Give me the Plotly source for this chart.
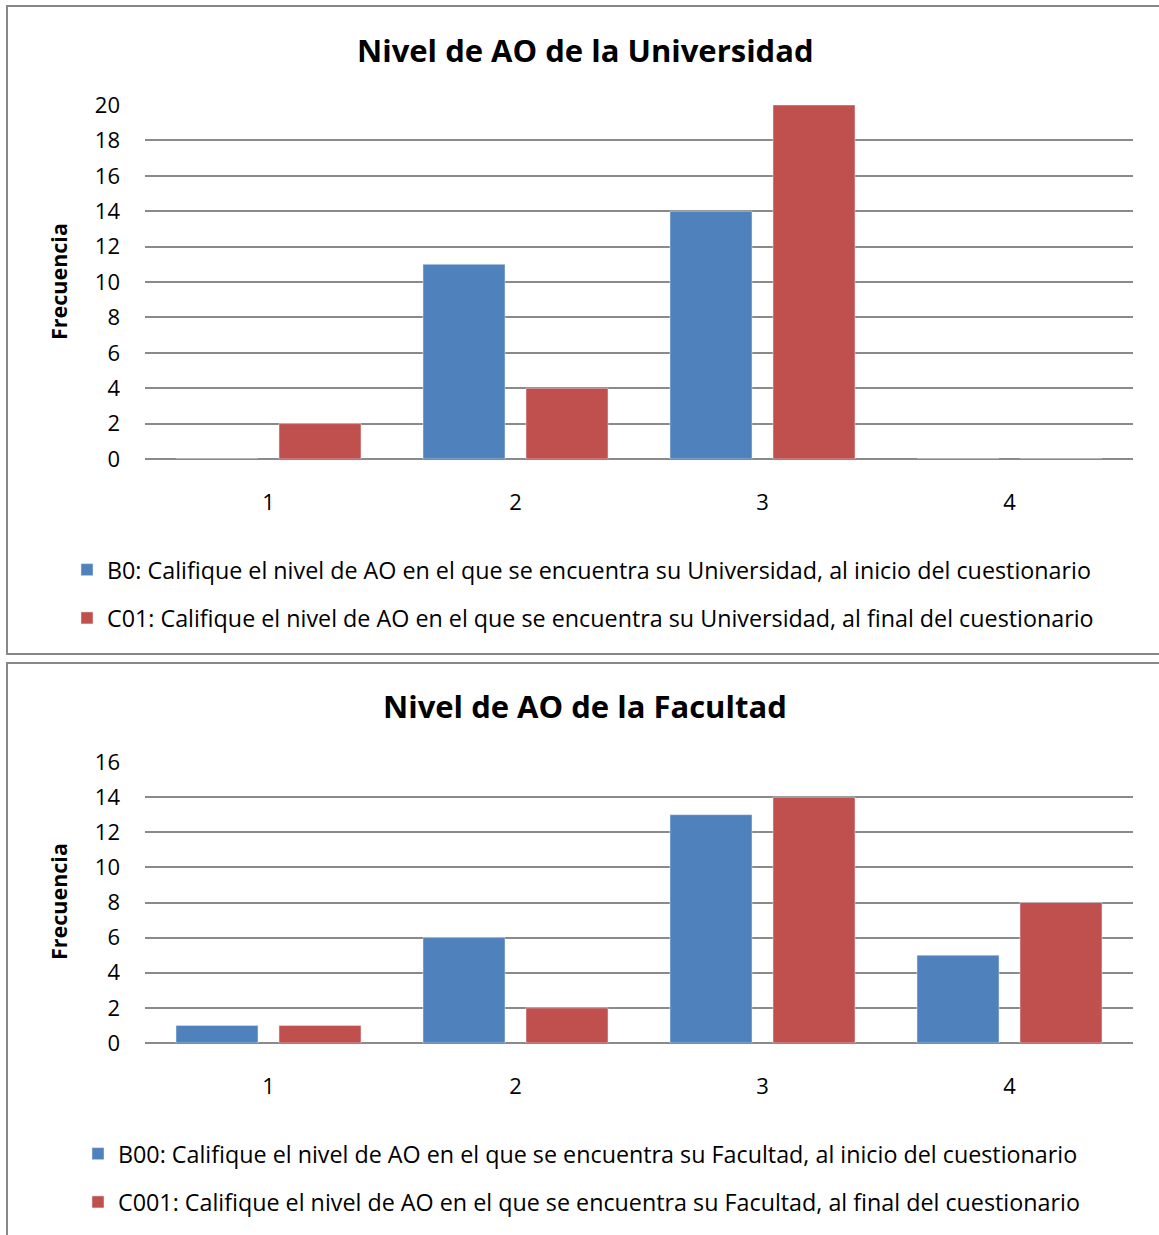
import plotly.graph_objects as go

# Categories (nivel) and frequencies
niveles = ["1", "2", "3", "4"]

univ_inicio = [0, 11, 14, 0]
univ_final = [2, 4, 20, 0]

fac_inicio = [1, 6, 13, 5]
fac_final = [1, 2, 14, 8]

univ_title = "Nivel de AO de la Universidad"
fac_title = "Nivel de AO de la Facultad"
y_label = "Frecuencia"

univ_names = [
    "B0: Califique el nivel de AO en el que se encuentra su Universidad, al inicio del cuestionario",
    "C01: Califique el nivel de AO en el que se encuentra su Universidad, al final del cuestionario",
]
fac_names = [
    "B00: Califique el nivel de AO en el que se encuentra su Facultad, al inicio del cuestionario",
    "C001: Califique el nivel de AO en el que se encuentra su Facultad, al final del cuestionario",
]

BLUE = "#4F81BD"
RED = "#C0504D"
GRID = "#8a8a8a"
FONT = "'Open Sans', sans-serif"

W, H = 1159, 1235


def px(x):
    return x / W


def py(y):
    return 1 - y / H


fig = go.Figure()

fig.add_trace(go.Bar(x=niveles, y=univ_inicio, name=univ_names[0], marker_color=BLUE,
                     xaxis="x", yaxis="y", legend="legend", legendgroup="a"))
fig.add_trace(go.Bar(x=niveles, y=univ_final, name=univ_names[1], marker_color=RED,
                     xaxis="x", yaxis="y", legend="legend", legendgroup="b"))
fig.add_trace(go.Bar(x=niveles, y=fac_inicio, name=fac_names[0], marker_color=BLUE,
                     xaxis="x2", yaxis="y2", legend="legend2", legendgroup="c"))
fig.add_trace(go.Bar(x=niveles, y=fac_final, name=fac_names[1], marker_color=RED,
                     xaxis="x2", yaxis="y2", legend="legend2", legendgroup="d"))

axis_font = dict(family=FONT, size=22, color="black")

xcommon = dict(type="category", showgrid=False, showline=False, zeroline=False,
               tickfont=axis_font, ticks="", ticklabelstandoff=28, fixedrange=True)
ycommon = dict(showgrid=True, gridcolor=GRID, gridwidth=1.5, zeroline=True,
               zerolinecolor=GRID, zerolinewidth=1.5, showline=False, ticks="",
               tickfont=axis_font, ticklabelstandoff=24, dtick=2)

legend_common = dict(font=dict(family=FONT, size=23.3, color="black"),
                     bgcolor="rgba(0,0,0,0)", orientation="v", tracegroupgap=15,
                     xanchor="left", yanchor="top", traceorder="grouped")

fig.update_layout(
    width=W, height=H,
    margin=dict(l=0, r=0, t=0, b=0, autoexpand=False),
    paper_bgcolor="white", plot_bgcolor="white",
    barmode="group", bargap=0.166, bargroupgap=0.204,
    showlegend=True,
    xaxis=dict(domain=[px(145), px(1133)], anchor="y", **xcommon),
    yaxis=dict(domain=[py(459), py(105)], anchor="x", range=[0, 20], **ycommon),
    xaxis2=dict(domain=[px(145), px(1133)], anchor="y2", **xcommon),
    yaxis2=dict(domain=[py(1043), py(762)], anchor="x2", range=[0, 16], **ycommon),
    legend=dict(x=px(67), y=py(548), **legend_common),
    legend2=dict(x=px(78), y=py(1132), **legend_common),
)

# Chart frames
fig.add_shape(type="rect", xref="paper", yref="paper",
              x0=px(7), x1=px(1170), y0=py(654), y1=py(6),
              line=dict(color="#888888", width=2), fillcolor="rgba(0,0,0,0)", layer="below")
fig.add_shape(type="rect", xref="paper", yref="paper",
              x0=px(7), x1=px(1170), y0=py(1250), y1=py(663),
              line=dict(color="#888888", width=2), fillcolor="rgba(0,0,0,0)", layer="below")

# Titles
for title, ycen in [(univ_title, 50), (fac_title, 706)]:
    fig.add_annotation(text=f"<b>{title}</b>", xref="paper", yref="paper",
                       x=px(585), y=py(ycen), showarrow=False,
                       xanchor="center", yanchor="middle",
                       font=dict(family=FONT, size=31, color="black"))

# Y axis titles
for ycen in [282, 902]:
    fig.add_annotation(text=f"<b>{y_label}</b>", xref="paper", yref="paper",
                       x=px(58), y=py(ycen), showarrow=False, textangle=-90,
                       xanchor="center", yanchor="middle",
                       font=dict(family=FONT, size=21.5, color="black"))

fig.write_html("out.html")
